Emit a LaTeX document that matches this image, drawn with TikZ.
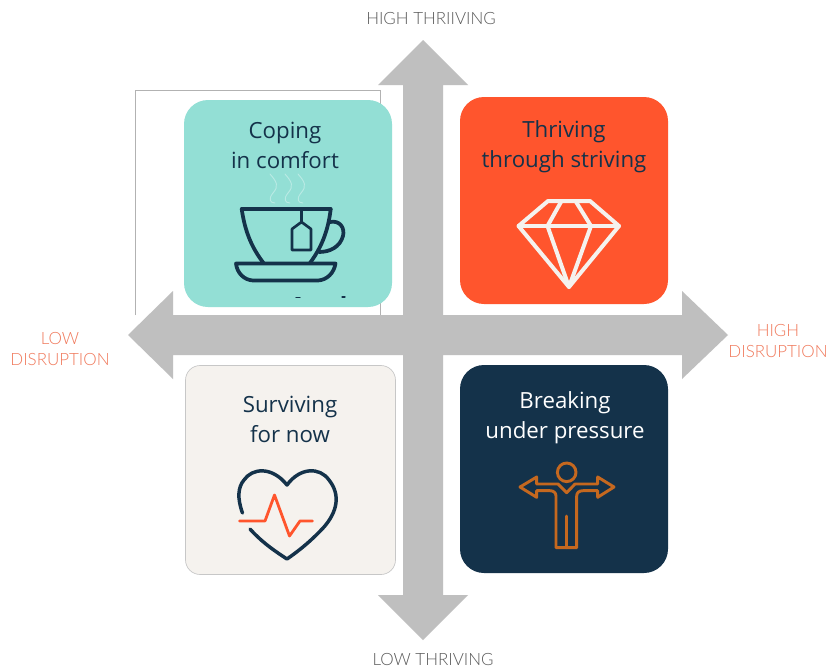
\documentclass[tikz,border=0pt]{standalone}
\usepackage{fontspec}
\setmainfont{Open Sans}
\newfontfamily\axisfont{Lato Light}
\definecolor{navy}{HTML}{14324A}
\definecolor{tealc}{HTML}{93DFD5}
\definecolor{orangec}{HTML}{FF552D}
\definecolor{beige}{HTML}{F5F2EE}
\definecolor{axisgrey}{HTML}{BFBFBF}
\definecolor{salmon}{HTML}{F0785A}
\definecolor{rust}{HTML}{C5681F}
\tikzset{
  cardbox/.style={rounded corners=18pt,inner sep=0pt},
  cardtext/.style={font=\fontsize{16.7pt}{22.5pt}\selectfont,align=center,anchor=center},
  axislab/.style={font=\axisfont\fontsize{12.7pt}{15.5pt}\selectfont,align=center,anchor=center},
  icon/.style={line width=2.8pt,line join=round,line cap=round}
}
\begin{document}
\begin{tikzpicture}[x=0.75pt,y=-0.75pt]
\useasboundingbox (0,0) rectangle (829,668);
\fill[white] (0,0) rectangle (829,668);
% frame
\draw[line width=0.6pt,black!30] (135.5,315) -- (135.5,90.5) -- (380.5,90.5) -- (380.5,315);
% axes
\fill[axisgrey] (423,40) -- (468,85) -- (443,85) -- (443,315) -- (682,315) -- (682,291) -- (728,335)
  -- (682,379) -- (682,355) -- (443,355) -- (443,595) -- (468,595) -- (423,640) -- (378,595)
  -- (403,595) -- (403,355) -- (173,355) -- (173,379) -- (128,335) -- (173,291) -- (173,315)
  -- (403,315) -- (403,85) -- (378,85) -- cycle;
% cards
\fill[tealc,cardbox] (184,100) rectangle (392,307);
\fill[orangec,cardbox] (460,97) rectangle (668,304);
\filldraw[fill=beige,draw=black!22,line width=0.5pt,rounded corners=11pt] (185.5,365.5) rectangle (395.5,574.5);
\fill[navy,cardbox] (460,365) rectangle (668,573);
% labels
\node[cardtext,text=navy] (coping) at (285,145.5) {Coping\\in comfort};
\node[cardtext,text=navy] (thriving) at (564,147) {Thriving\\through striving};
\node[cardtext,text=navy] (surviving) at (290,419.5) {Surviving\\for now};
\node[cardtext,text=white] (breaking) at (565,417.5) {Breaking\\under pressure};
\node[axislab,text=black!65] (high) at (431,18.5) {HIGH THRIIVING};
\node[axislab,text=black!65] (low) at (433,660) {LOW THRIVING};
\node[axislab,text=salmon] (lowd) at (60,349) {LOW\\DISRUPTION};
\node[axislab,text=salmon] (highd) at (778,341) {HIGH\\DISRUPTION};
% cup
\begin{scope}[icon,navy]
\draw (241.7,209) -- (330.7,209);
\draw (241.7,209) .. controls (245,232) and (252,248) .. (263.5,263);
\draw (330.7,209) .. controls (328,232) and (321,248) .. (310,263);
\draw (330,222) .. controls (340,220) and (345,228) .. (343,236) .. controls (340,247) and (330,252) .. (319,252);
\draw (236,263.5) -- (335.5,263.5) .. controls (334,273) and (327,280) .. (318,280.5) -- (253,280.5) .. controls (244,280) and (237,273) .. (236,263.5) -- cycle;
\draw[line width=2pt] (301.5,209) -- (301.5,222) -- (311,229) -- (311,250) -- (292,250) -- (292,229) -- (301.5,222);
\draw[line width=1pt] (296,297.5) -- (300,297.5);
\draw[line width=1pt] (342,297) -- (345,297);
\end{scope}
\begin{scope}[line width=0.7pt,line cap=round,draw=white!35!tealc]
\draw (270,174) .. controls (277,182) and (279,186) .. (273,193) .. controls (268,199) and (270,203) .. (275,203);
\draw (285,174) .. controls (292,182) and (294,186) .. (288,193) .. controls (283,199) and (285,203) .. (290,203);
\draw (298,174) .. controls (305,182) and (307,186) .. (301,193) .. controls (296,199) and (298,203) .. (303,203);
\end{scope}
% diamond
\begin{scope}[icon,beige,line width=3pt]
\draw (548,201) -- (590,201) -- (619,226) -- (569,287) -- (518.5,226) -- cycle;
\draw (518.5,226) -- (619,226);
\draw (561.5,201) -- (547.5,226) -- (569,287) -- (591,226) -- (575.5,201);
\end{scope}
% heart
\draw[icon,navy,line width=2.6pt] (242.5,513) .. controls (237,498) and (238,487) .. (244,480) .. controls (252,468) and (272,466) .. (287,485)
  .. controls (300,467) and (320,467) .. (329,480) .. controls (341,495) and (337,512) .. (324,527) .. controls (312,540) and (300,550) .. (287,559)
  .. controls (270,548) and (260,540) .. (250,529);
\draw[orangec,line width=2.1pt,line join=round,line cap=round] (239.5,521) -- (265,521) -- (274.5,495) -- (289.5,536) -- (300,521) -- (312.5,521);
% person
\begin{scope}[rust,line width=2.2pt,line join=round,line cap=round]
\draw (566.7,472.3) circle (9.3);
\draw (566.7,492.7) -- (575,484) -- (597.7,484) -- (597.7,477) -- (614,487) -- (597.7,497.3) -- (597.7,490.7) -- (583,490.7)
  .. controls (579,490.7) and (576.7,492.7) .. (576.7,496) -- (576.7,547.7) -- (556,547.7) -- (556,496)
  .. controls (556,492.7) and (553.5,490.7) .. (550,490.7) -- (536.7,490.7) -- (536.7,497.3) -- (520,487) -- (536.7,477) -- (536.7,484) -- (558,484) -- cycle;
\draw (566.7,516) -- (566.7,547.7);
\end{scope}
\end{tikzpicture}
\end{document}
